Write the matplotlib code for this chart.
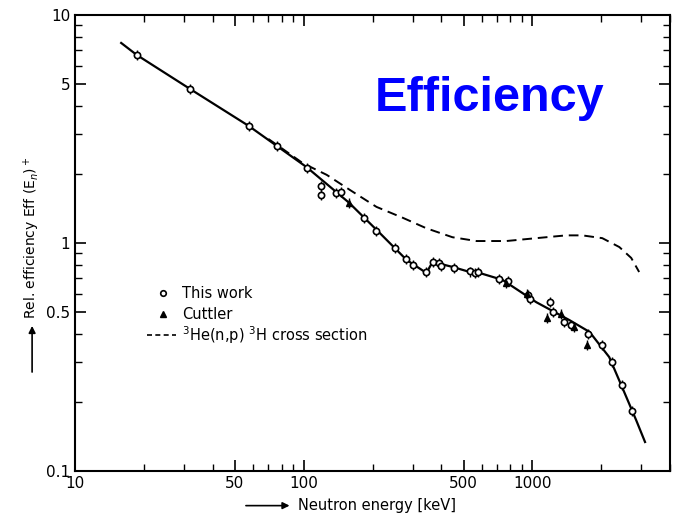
import numpy as np
import matplotlib.pyplot as plt
from matplotlib.ticker import FixedLocator, NullFormatter

# measured points, "This work" (keV, rel. efficiency)
work_e = [18.6, 31.8, 57.5, 76.2, 103, 118.6, 118.6, 139, 146, 183, 208, 250, 279,
          302, 344, 366, 392, 400, 456, 535, 560, 580, 718, 786, 961, 975, 1200,
          1230, 1380, 1470, 1757, 2024, 2236, 2470, 2735]
work_eff = [6.68, 4.74, 3.26, 2.66, 2.13, 1.78, 1.62, 1.66, 1.68, 1.29, 1.13, 0.95, 0.85,
            0.80, 0.746, 0.826, 0.82, 0.79, 0.776, 0.75, 0.74, 0.745, 0.695, 0.68, 0.59,
            0.57, 0.55, 0.50, 0.45, 0.435, 0.40, 0.357, 0.30, 0.238, 0.183]

# Cuttler
cut_e = [158, 770, 950, 1164, 1330, 1520, 1740]
cut_eff = [1.50, 0.665, 0.60, 0.47, 0.49, 0.43, 0.357]

# fitted efficiency curve
fit_e = [15.9, 18.6, 31.8, 57.5, 103, 158, 215, 282, 344, 366, 448, 535, 587,
         740, 1040, 1452, 1780, 2168, 2470, 2845, 3110]
fit_eff = [7.54, 6.68, 4.74, 3.26, 2.15, 1.50, 1.106, 0.842, 0.739, 0.826, 0.785,
           0.745, 0.739, 0.689, 0.55, 0.459, 0.407, 0.316, 0.233, 0.167, 0.134]

# 3He(n,p)3H cross section, scaled
xs_e = [70, 78.5, 99, 126, 159, 208, 271, 344, 447, 569, 769, 1040, 1405, 1652,
        2022, 2400, 2706, 2931]
xs_val = [2.86, 2.64, 2.24, 1.99, 1.71, 1.44, 1.29, 1.16, 1.06, 1.02, 1.02, 1.05,
          1.08, 1.08, 1.05, 0.96, 0.86, 0.746]

fig = plt.figure(figsize=(6.83, 5.17), dpi=100)
ax = fig.add_axes([0.110, 0.089, 0.871, 0.882])

ax.plot(fit_e, fit_eff, color='black', lw=1.6, zorder=2)
ax.plot(xs_e, xs_val, color='black', lw=1.4, ls=(0, (5, 3)), zorder=1)

ax.errorbar(work_e, work_eff, yerr=np.array(work_eff) * 0.05, fmt='o', ms=4.5,
            mfc='white', mec='black', mew=1.2, ecolor='black', elinewidth=1,
            capsize=0, zorder=3)
ax.errorbar(cut_e, cut_eff, yerr=np.array(cut_eff) * 0.05, fmt='^', ms=5,
            color='black', elinewidth=1, capsize=0, zorder=3)

ax.set_xscale('log')
ax.set_yscale('log')
ax.set_xlim(10, 4000)
ax.set_ylim(0.1, 10)

ax.xaxis.set_major_locator(FixedLocator([10, 50, 100, 500, 1000]))
ax.xaxis.set_minor_locator(FixedLocator(
    [d * s for d in (10, 100, 1000) for s in range(2, 10) if d * s not in (50, 500)]))
ax.set_xticklabels(['10', '50', '100', '500', '1000'])
ax.xaxis.set_minor_formatter(NullFormatter())

ax.yaxis.set_major_locator(FixedLocator([0.1, 0.5, 1, 5, 10]))
ax.yaxis.set_minor_locator(FixedLocator(
    [d * s for d in (0.1, 1) for s in range(2, 10) if s != 5]))
ax.set_yticklabels(['0.1', '0.5', '1', '5', '10'])
ax.yaxis.set_minor_formatter(NullFormatter())

ax.tick_params(which='both', direction='in', top=True, right=True, labelsize=11)
ax.tick_params(which='major', length=8, width=1.2)
ax.tick_params(which='minor', length=5, width=1.0)
for s in ax.spines.values():
    s.set_linewidth(1.5)

# legend drawn by hand
lx, ly = 0.125, 0.39
ax.plot([lx + 0.022], [ly], 'o', ms=4, mfc='white', mec='black', mew=1.2,
        transform=ax.transAxes)
ax.text(lx + 0.055, ly, 'This work', transform=ax.transAxes, va='center', fontsize=10.5)
ax.plot([lx + 0.022], [ly - 0.046], '^', ms=5, color='black', transform=ax.transAxes)
ax.text(lx + 0.055, ly - 0.046, 'Cuttler', transform=ax.transAxes, va='center', fontsize=10.5)
ax.plot([lx - 0.005, lx + 0.045], [ly - 0.092] * 2, color='black', lw=1.2,
        ls=(0, (3, 2)), transform=ax.transAxes)
ax.text(lx + 0.055, ly - 0.092, r'$^3$He(n,p) $^3$H cross section',
        transform=ax.transAxes, va='center', fontsize=10.5)

# axis titles with arrows
fig.text(0.046, 0.54, r'Rel. efficiency Eff (E$_n$)$^+$', rotation=90,
         ha='center', va='center', fontsize=10)
fig.add_artist(plt.Annotation('', xy=(0.047, 0.375), xytext=(0.047, 0.275),
                              xycoords='figure fraction',
                              arrowprops=dict(arrowstyle='-|>', color='black', lw=1.2)))
fig.text(0.436, 0.022, 'Neutron energy [keV]', ha='left', va='center', fontsize=10.5)
fig.add_artist(plt.Annotation('', xy=(0.428, 0.022), xytext=(0.356, 0.022),
                              xycoords='figure fraction',
                              arrowprops=dict(arrowstyle='-|>', color='black', lw=1.2)))

fig.text(0.717, 0.81, 'Efficiency', color='#0000ff', fontsize=35, fontweight='bold',
         family='Liberation Sans', ha='center', va='center')

fig.savefig('out.png', dpi=100)
